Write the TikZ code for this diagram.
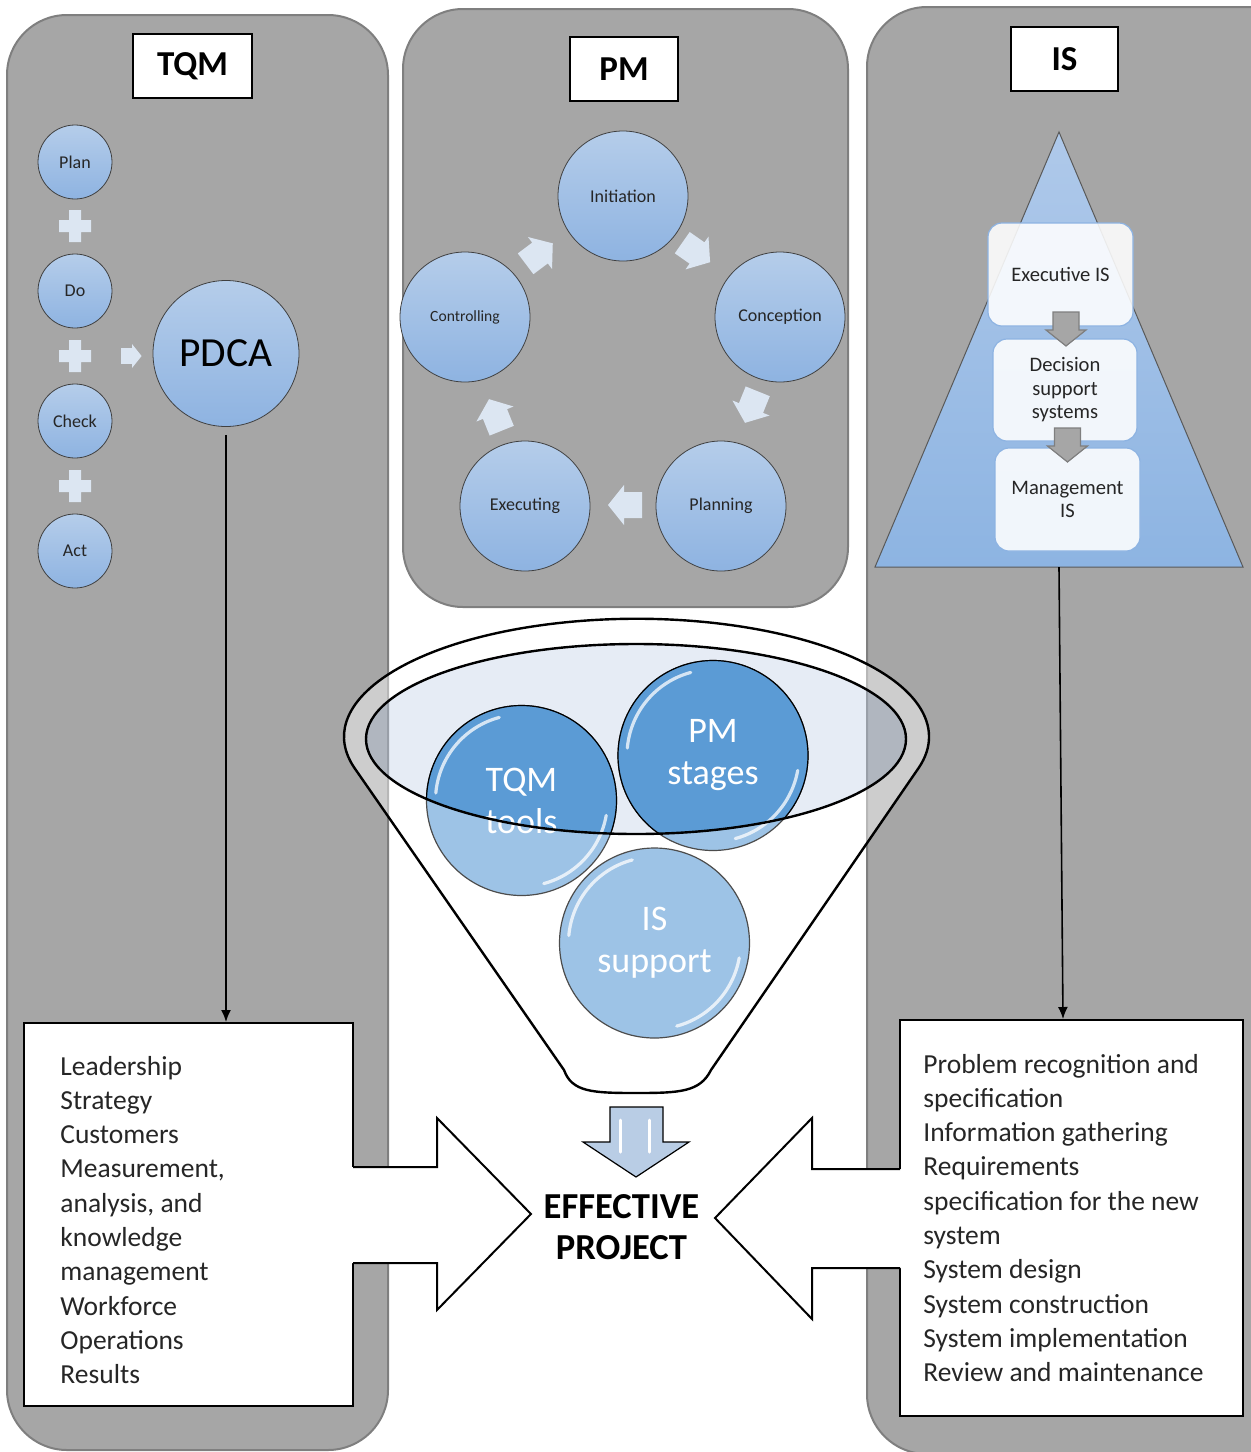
\documentclass[tikz,border=0pt]{standalone}
\usepackage{fontspec}
\setmainfont{Carlito}
\usetikzlibrary{arrows.meta}

\definecolor{panelgrey}{HTML}{A6A6A6}
\definecolor{paneledge}{HTML}{7F7F7F}
\definecolor{bubtop}{HTML}{B5CDEA}
\definecolor{bubbot}{HTML}{8EB3E1}
\definecolor{arrowlight}{HTML}{DCE6F2}
\definecolor{boxblue}{HTML}{8DB3E2}
\definecolor{tritop}{HTML}{AFC9EA}
\definecolor{tribot}{HTML}{8DB4E2}
\definecolor{ballight}{HTML}{9DC3E6}
\definecolor{baldark}{HTML}{5B9BD5}
\definecolor{rimblue}{HTML}{C0CFE6}
\definecolor{outblue}{HTML}{B9CDE5}
\definecolor{txtgrey}{HTML}{262626}

\tikzset{
  panel/.style={draw=paneledge, line width=1pt, fill=panelgrey, rounded corners=30pt},
  title/.style={draw=black, fill=white, line width=0.6pt, inner sep=0pt,
    minimum height=32pt, font=\bfseries\fontsize{17.5}{20}\selectfont},
  bubble/.style={circle, draw=black!75, line width=0.4pt, top color=bubtop,
    bottom color=bubbot, inner sep=0pt, text=txtgrey},
  isbox/.style={draw=boxblue, line width=0.6pt, fill=white, fill opacity=0.88,
    text opacity=1, rounded corners=7pt, align=center, inner sep=0pt,
    text=txtgrey, font=\fontsize{10.3}{11.75}\selectfont},
  ball/.style={circle, draw=black!70, line width=0.6pt, fill=ballight,
    minimum size=95pt, inner sep=0pt},
  balltext/.style={text=white, align=center, font=\fontsize{18}{21}\selectfont},
  gloss/.style={white, line width=1.6pt, opacity=0.75, line cap=round},
  listbox/.style={draw=black, line width=1pt, fill=white},
  listtext/.style={anchor=west, align=left, inner sep=0pt, text=txtgrey,
    font=\fontsize{13.75}{17.15}\selectfont,
    execute at begin node=\strut, execute at end node=\strut},
  bigarrow/.style={draw=black, line width=1pt, line join=miter},
  link/.style={line width=0.8pt, -{Latex[length=6pt,width=5pt]}},
  blockarr/.pic={\path[pic actions] (-9pt,-6.5pt) -- (0pt,-6.5pt) -- (0pt,-10pt)
    -- (8pt,0pt) -- (0pt,10pt) -- (0pt,6.5pt) -- (-9pt,6.5pt) -- cycle;},
  plussign/.pic={\path[pic actions] (-8pt,-3pt) -- (-3pt,-3pt) -- (-3pt,-8pt)
    -- (3pt,-8pt) -- (3pt,-3pt) -- (8pt,-3pt) -- (8pt,3pt) -- (3pt,3pt)
    -- (3pt,8pt) -- (-3pt,8pt) -- (-3pt,3pt) -- (-8pt,3pt) -- cycle;}
}

\begin{document}
\begin{tikzpicture}[x=0.5pt,y=-0.5pt]
\clip (0,0) rectangle (1251,1452);

% three panels
\draw[panel] (7,15) rectangle (388,1450);
\draw[panel] (403,9) rectangle (848,607);
\draw[panel] (867,7) rectangle (1330,1454);

\node[title, minimum width=59.5pt] (tqm) at (192.5,66) {TQM};
\node[title, minimum width=54pt] (pm) at (624,69) {PM};
\node[title, minimum width=53.5pt] (is) at (1064.5,59) {IS};

% TQM: plan do check act
\foreach \nm/\txt/\y in {plan/Plan/162, do/Do/291, check/Check/421, act/Act/551}
  \node[bubble, minimum size=37pt, font=\fontsize{9}{10}\selectfont] (\nm) at (75,\y) {\txt};
\foreach \y in {226,356,486}
  \pic[fill=arrowlight] at (75,\y) {plussign};
\pic[fill=arrowlight, scale=0.6] at (132,356) {blockarr};
\node[bubble, minimum size=73pt, text=black, font=\fontsize{20.7}{24}\selectfont] (pdca) at (226,353.5) {PDCA};

% PM cycle
\node[bubble, minimum size=65pt, font=\fontsize{9}{10}\selectfont] (initiation) at (623,196) {Initiation};
\node[bubble, minimum size=65pt, font=\fontsize{9}{10}\selectfont] (conception) at (780,317) {Conception};
\node[bubble, minimum size=65pt, font=\fontsize{9}{10}\selectfont] (planning) at (721,506) {Planning};
\node[bubble, minimum size=65pt, font=\fontsize{9}{10}\selectfont] (executing) at (525,506) {Executing};
\node[bubble, minimum size=65pt, font=\fontsize{7.8}{9}\selectfont] (controlling) at (465,317) {Controlling};
\pic[fill=arrowlight, rotate=-35] at (697,253) {blockarr};
\pic[fill=arrowlight, rotate=-112] at (751,408) {blockarr};
\pic[fill=arrowlight, rotate=180] at (624,505) {blockarr};
\pic[fill=arrowlight, rotate=112] at (495,414) {blockarr};
\pic[fill=arrowlight, rotate=37] at (540,253) {blockarr};

% IS pyramid
\coordinate (apex) at (1059,132);
\coordinate (isbase) at (1059,567);
\path[draw=black!65, line width=0.5pt, top color=tritop, bottom color=tribot] (apex) -- (1243,567) -- (875,567) -- cycle;
\node[isbox, minimum width=72.5pt, minimum height=51.5pt] (exec) at (1060.5,274.5) {Executive IS};
\node[isbox, minimum width=72pt, minimum height=51pt] (dss) at (1065,390) {Decision\\support\\systems};
\node[isbox, minimum width=72.5pt, minimum height=51.5pt] (mis) at (1067.5,499.5) {Management\\IS};
\pic[fill=panelgrey, draw=paneledge, line width=0.6pt, rotate=-90] at (1066,330) {blockarr};
\pic[fill=panelgrey, draw=paneledge, line width=0.6pt, rotate=-90] at (1067.5,446) {blockarr};

% lists
\node[listbox, minimum width=164.5pt, minimum height=191.5pt] (tqmlist) at (188.5,1214.5) {};
\node[listtext] (tqmtext) at (60,1225) {Leadership\\Strategy\\Customers\\Measurement,\\analysis, and\\knowledge\\management\\Workforce\\Operations\\Results};
\node[listbox, minimum width=171.5pt, minimum height=198pt] (islist) at (1071.5,1218) {};
\node[listtext] (istext) at (923,1223) {Problem recognition and\\specification\\Information gathering\\Requirements\\specification for the new\\system\\System design\\System construction\\System implementation\\Review and maintenance};

\draw[link, shorten <=4pt] (pdca) -- (pdca |- tqmlist.north);
\draw[link] (isbase) -- ([xshift=-4.25pt]islist.north);

% big arrows into the result
\fill[white] (350,1167) -- (437,1167) -- (437,1118) -- (531,1214) -- (437,1310) -- (437,1263) -- (350,1263) -- cycle;
\draw[bigarrow] (353,1167) -- (437,1167) -- (437,1118) -- (531,1214) -- (437,1310) -- (437,1263) -- (353,1263);
\fill[white] (903,1169) -- (812,1169) -- (812,1118) -- (715,1218) -- (812,1319) -- (812,1268) -- (903,1268) -- cycle;
\draw[bigarrow] (900,1169) -- (812,1169) -- (812,1118) -- (715,1218) -- (812,1319) -- (812,1268) -- (900,1268);

% funnel
\path[fill=white, fill opacity=0.44, even odd rule] (354.5,768) arc[start angle=164.65, end angle=375.35, x radius=292.5, y radius=118]
  -- (711,1070) .. controls (700,1092) and (680,1093) .. (636,1093) .. controls (592,1093) and (572,1092) .. (564,1070) -- cycle
  (636,739) ellipse [x radius=270, y radius=95];
\draw[line width=1.2pt] (354.5,768) arc[start angle=164.65, end angle=375.35, x radius=292.5, y radius=118]
  -- (711,1070) .. controls (700,1092) and (680,1093) .. (636,1093) .. controls (592,1093) and (572,1092) .. (564,1070) -- cycle;
\fill[rimblue, fill opacity=0.4] (636,739) ellipse [x radius=270, y radius=95];

\node[ball] (tqmtools) at (521.5,800.5) {};
\node[ball] (pmstages) at (713,755.5) {};
\node[ball] (issupport) at (654.5,943) {};
\begin{scope}
  \clip (636,739) ellipse [x radius=270, y radius=95];
  \path[fill=baldark, draw=black, line width=0.6pt] (tqmtools.center) circle [radius=47.5pt];
  \path[fill=baldark, draw=black, line width=0.6pt] (pmstages.center) circle [radius=47.5pt];
\end{scope}
\foreach \b in {tqmtools, pmstages, issupport} {
  \draw[gloss] ([shift={(105:43pt)}]\b.center) arc[start angle=105, end angle=175, radius=43pt];
  \draw[gloss] ([shift={(-75:43pt)}]\b.center) arc[start angle=-75, end angle=-10, radius=43pt];
}
\node[balltext] at (tqmtools) {TQM\\tools};
\node[balltext] at (pmstages) {PM\\stages};
\node[balltext] at (issupport) {IS\\support};
\draw[line width=1.2pt] (636,739) ellipse [x radius=270, y radius=95];

% output arrow
\path[fill=outblue, draw=black, line width=0.6pt] (610,1107) -- (663,1107) -- (663,1142) -- (689,1142) -- (636,1177) -- (583,1142) -- (610,1142) -- cycle;
\draw[white, line width=1.5pt, line cap=round] (620,1120) -- (620,1152) (649,1120) -- (649,1152);
\node[font=\bfseries\fontsize{18.3}{20.5}\selectfont, align=center] (effective) at (621.5,1227) {EFFECTIVE\\PROJECT};

\end{tikzpicture}
\end{document}
